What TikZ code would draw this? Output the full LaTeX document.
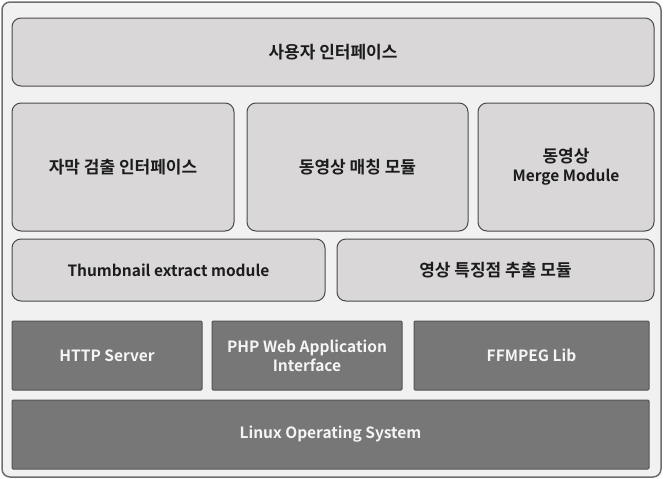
\documentclass[tikz,border=0pt]{standalone}
\usepackage{fontspec}
\setmainfont{Noto Sans CJK KR Bold}
\newcommand{\ko}{\fontsize{17}{19}\selectfont}
\definecolor{framefill}{HTML}{F1F1F1}
\definecolor{frameline}{HTML}{6E6E6E}
\definecolor{lightfill}{HTML}{D9D7D8}
\definecolor{boxline}{HTML}{4A4A4A}
\definecolor{darkfill}{HTML}{777777}
\definecolor{darkline}{HTML}{555555}
\definecolor{lighttext}{HTML}{1C1C1C}
\definecolor{darktext}{HTML}{F5F5F5}
\tikzset{
  frame/.style={draw=frameline, line width=1.5pt, fill=framefill, rounded corners=8pt, inner sep=0pt},
  lightbox/.style={draw=boxline, line width=1pt, fill=lightfill, rounded corners=9pt, inner sep=0pt,
    text=lighttext, font=\fontsize{15.5}{19}\selectfont, align=center},
  darkbox/.style={draw=darkline, line width=1pt, fill=darkfill, rounded corners=1pt, inner sep=0pt,
    text=darktext, font=\fontsize{15.5}{19}\selectfont, align=center},
}
\newcommand{\boxat}[7]{% style, name, x1, y1, x2, y2, text
  \node[#1, minimum width={#5-#3}, minimum height={#6-#4}] (#2) at ({(#3+#5)/2},{(#4+#6)/2}) {#7};}
\begin{document}
\begin{tikzpicture}[x=1pt,y=-1pt]
\useasboundingbox (0,0) rectangle (664,479);
\boxat{frame}{outer}{2}{2}{661}{477}{}
\boxat{lightbox}{ui}{12}{18}{654}{86}{\ko 사용자 인터페이스}
\boxat{lightbox}{subtitle}{12}{103}{234}{231}{\ko 자막 검출 인터페이스}
\boxat{lightbox}{match}{247}{103}{468}{231}{\ko 동영상 매칭 모듈}
\boxat{lightbox}{merge}{478}{103}{654}{231}{{\ko 동영상}\\Merge Module}
\boxat{lightbox}{thumb}{12}{239}{325}{301}{Thumbnail extract module}
\boxat{lightbox}{feature}{337}{239}{654}{301}{\ko 영상 특징점 추출 모듈}
\boxat{darkbox}{http}{12}{321}{202}{390}{HTTP Server}
\boxat{darkbox}{php}{212}{321}{402}{390}{PHP Web Application\\Interface}
\boxat{darkbox}{ffmpeg}{414}{321}{649}{390}{FFMPEG Lib}
\boxat{darkbox}{linux}{12}{400}{649}{469}{Linux Operating System}
\end{tikzpicture}
\end{document}
